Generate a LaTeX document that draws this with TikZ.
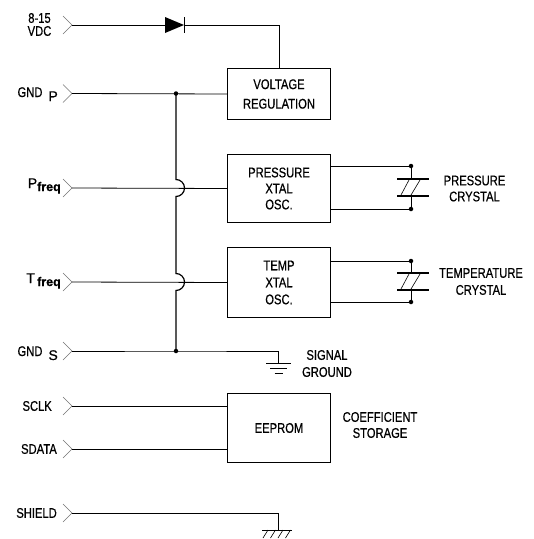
\documentclass[tikz,border=0pt]{standalone}
\usepackage{fontspec}
\setmainfont{Liberation Sans}[FakeStretch=0.8, FakeBold=0.6]
\newfontfamily\widefont{Liberation Sans}[FakeBold=0.6]
\newcommand\lblfont{\fontsize{14}{16}\selectfont}
\begin{document}
\begin{tikzpicture}[x=1pt,y=-1pt,
  wire/.style={line width=0.8pt},
  bus/.style={line width=1.2pt},
  pinmark/.style={line width=0.6pt, black!55},
  blk/.style={draw, line width=1pt, anchor=north west, inner sep=0pt, minimum width=103pt, align=center},
  txt/.style={inner sep=0pt, align=center, font=\lblfont},
  dot/.style={circle, fill, inner sep=0pt, minimum size=4.5pt},
  plate/.style={line width=1.3pt},
  slash/.style={line width=0.6pt}]
\useasboundingbox (0,0) rectangle (534,539);

% blocks
\node[blk, minimum height=51pt, font=\fontsize{14}{19.5}\selectfont] (reg) at (227,68) {VOLTAGE\\REGULATION};
\node[blk, minimum height=68pt, font=\fontsize{14}{16}\selectfont] (posc) at (227,154) {PRESSURE\\XTAL\\OSC.};
\node[blk, minimum height=70pt, font=\fontsize{14}{17}\selectfont] (tosc) at (227,247) {TEMP\\XTAL\\OSC.};
\node[blk, minimum height=69pt, font=\lblfont] (eep) at (227,393) {EEPROM};

% pins
\coordinate (vdc) at (72,25);
\coordinate (gndp) at (72,93.5);
\coordinate (pf) at (72,188);
\coordinate (tf) at (72,282);
\coordinate (gnds) at (72,351);
\coordinate (sclk) at (72,406);
\coordinate (sdata) at (72,449);
\coordinate (shield) at (72,513);
\foreach \p in {vdc,gndp,pf,tf,gnds,sclk,sdata,shield}
  \draw[pinmark] ([shift={(-9,-9)}]\p) -- (\p) -- ([shift={(-9,9)}]\p);

% pin labels
\node[txt, font=\fontsize{14}{13}\selectfont] (lvdc) at (39.5,24.5) {8-15\\VDC};
\node[txt, anchor=base east] (lgndp) at (58,97) {GND\hspace{6pt}\raisebox{-4pt}{\widefont P}};
\node[txt, anchor=base east] (lpf) at (61,188) {{\widefont\fontsize{14}{14}\selectfont P}\raisebox{-3pt}{\widefont\bfseries\fontsize{12.5}{13}\selectfont freq}};
\node[txt, anchor=base east] (ltf) at (61,283) {{\widefont\fontsize{14}{14}\selectfont T}\,\raisebox{-3pt}{\widefont\bfseries\fontsize{12.5}{13}\selectfont freq}};
\node[txt, anchor=base east] (lgnds) at (58,356) {GND\hspace{6pt}\raisebox{-4pt}{\widefont S}};
\node[txt, anchor=east] (lsclk) at (52,406) {SCLK};
\node[txt, anchor=east] (lsdata) at (57,449) {SDATA};
\node[txt, anchor=east] (lshield) at (57,513) {SHIELD};

% diode on supply line
\coordinate (da) at (165,25);
\coordinate (dk) at (184.5,25);
\draw[wire] (vdc) -- (da);
\fill (165,17) -- (184,25) -- (165,33) -- cycle;
\draw[line width=1.6pt] (184.5,17) -- (184.5,33);
\draw[wire] (dk) -| (reg.north);

% ground bus
\coordinate (jp) at (176,93.5);
\coordinate (js) at (176,351);
\draw[wire] (gndp) -- (reg.west);
\draw[bus] (jp) -- (176,179.5) arc[start angle=-90, end angle=90, radius=8.5]
  -- (176,273.5) arc[start angle=-90, end angle=90, radius=8.5] -- (js);
\node[dot] at (jp) {};
\node[dot] at (js) {};

% frequency outputs
\draw[wire] (pf) -- (posc.west);
\draw[wire] (tf) -- (tosc.west);

% pressure crystal
\coordinate (pct) at (411,166);
\coordinate (pcb) at (411,209);
\draw[wire] (posc.east |- pct) -- (pct) -- (411,179);
\draw[wire] (posc.east |- pcb) -- (pcb) -- (411,196);
\draw[plate] (397,179) -- (429,179) (397,196) -- (429,196);
\draw[slash] (401,195) -- (409,180) (411,195) -- (420,180);
\node[dot] at (pct) {};
\node[dot] at (pcb) {};
\node[txt] (lpc) at (474.5,188.5) {PRESSURE\\CRYSTAL};

% temperature crystal
\coordinate (tct) at (411,261);
\coordinate (tcb) at (411,302);
\draw[wire] (tosc.east |- tct) -- (tct) -- (411,273);
\draw[wire] (tosc.east |- tcb) -- (tcb) -- (411,290);
\draw[plate] (397,273) -- (429,273) (397,290) -- (429,290);
\draw[slash] (401,289) -- (409,274) (411,289) -- (420,274);
\node[dot] at (tct) {};
\node[dot] at (tcb) {};
\node[txt, font=\fontsize{14}{17}\selectfont] (ltc) at (481,281.5) {TEMPERATURE\\CRYSTAL};

% signal ground
\coordinate (sg) at (278,363);
\draw[wire] (gnds) -- (js) -| (sg);
\draw[wire] (266,363) -- (291,363) (270,368) -- (287,368) (274.5,373) -- (282.5,373);
\node[txt, font=\fontsize{14}{17}\selectfont] (lsg) at (327,363.5) {SIGNAL\\GROUND};

% EEPROM
\draw[wire] (sclk) -- (sclk -| eep.west);
\draw[wire] (sdata) -- (sdata -| eep.west);
\node[txt] (lcs) at (380,425) {COEFFICIENT\\STORAGE};

% shield / chassis ground
\coordinate (cg) at (278,530);
\draw[wire] (shield) -| (cg);
\draw[line width=0.6pt] (262,530) -- (292,530);
\foreach \k in {0,1,2,3}
  \draw[slash] (263+7.5*\k,538) -- (268+7.5*\k,530);
\end{tikzpicture}
\end{document}
